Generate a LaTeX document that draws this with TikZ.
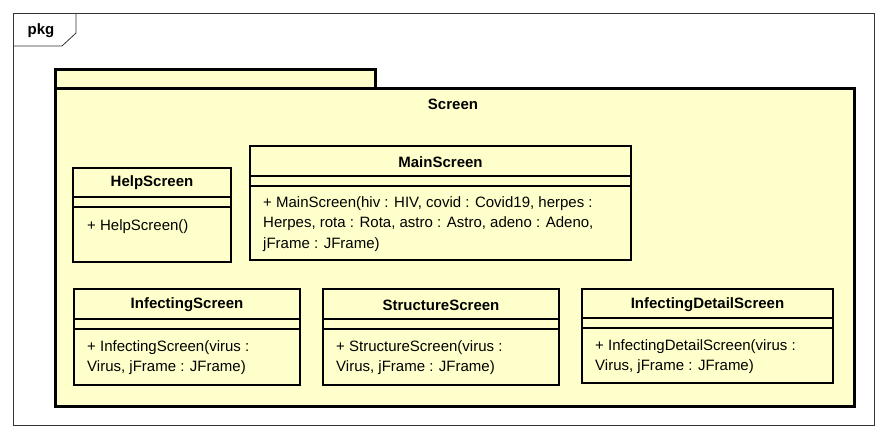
\documentclass[tikz,border=0pt]{standalone}
\usepackage{fontspec}
\setmainfont{Liberation Sans}
\definecolor{uml}{HTML}{FFFFCC}
\definecolor{frm}{HTML}{333333}
\tikzset{
  cls/.style={draw=black, line width=2.8pt, fill=uml, anchor=north west, inner sep=0pt, outer sep=0pt},
  sepline/.style={draw=black, line width=1.1pt},
  cname/.style={font=\bfseries\fontsize{15}{18}\selectfont, inner sep=0pt},
  meth/.style={font=\fontsize{15}{20.5}\selectfont, anchor=north west, align=left, inner sep=0pt},
}
\begin{document}
\begin{tikzpicture}[x=1pt,y=-1pt]
\useasboundingbox (0,0) rectangle (886,438);
% outer frame
\node[draw=frm, line width=0.8pt, anchor=north west, minimum width=861pt, minimum height=412pt, inner sep=0pt] (frame) at (13,13) {};
\coordinate (t1) at (76,13);
\coordinate (t2) at (76,33);
\coordinate (t3) at (62,46);
\coordinate (t4) at (13,46);
\draw[frm, line width=0.8pt] (t1) -- (t2) -- (t3) -- (t4);
\node[font=\bfseries\fontsize{15}{18}\selectfont, inner sep=0pt] (pkg) at (41,31) {pkg};
% package
\node[draw=black, line width=2.8pt, fill=uml, anchor=north west, minimum width=320pt, minimum height=20pt, inner sep=0pt] (ptab) at (54,68) {};
\node[draw=black, line width=2.8pt, fill=uml, anchor=north west, minimum width=799pt, minimum height=318pt, inner sep=0pt] (pbody) at (54,87) {};
\node[cname] (pname) at (453,104) {Screen};
% HelpScreen
\node[cls, minimum width=158pt, minimum height=94pt] (help) at (73,168) {};
\node[cname] (helpn) at (152,183) {HelpScreen};
\draw[sepline] (help.west |- 0,197) -- (help.east |- 0,197);
\draw[sepline] (help.west |- 0,207) -- (help.east |- 0,207);
\node[meth] (helpm) at (87,219) {+ HelpScreen()};
% MainScreen
\node[cls, minimum width=381pt, minimum height=114pt] (main) at (250,146) {};
\node[cname] (mainn) at (440.5,162) {MainScreen};
\draw[sepline] (main.west |- 0,176) -- (main.east |- 0,176);
\draw[sepline] (main.west |- 0,186) -- (main.east |- 0,186);
\node[meth] (mainm) at (263,196) {+ MainScreen(hiv : HIV, covid : Covid19, herpes :\\Herpes, rota : Rota, astro : Astro, adeno : Adeno,\\jFrame : JFrame)};
% InfectingScreen
\node[cls, minimum width=226pt, minimum height=96pt] (inf) at (74,289) {};
\node[cname] (infn) at (187,305) {InfectingScreen};
\draw[sepline] (inf.west |- 0,319) -- (inf.east |- 0,319);
\draw[sepline] (inf.west |- 0,329) -- (inf.east |- 0,329);
\node[meth] (infm) at (87,340) {+ InfectingScreen(virus :\\Virus, jFrame : JFrame)};
% StructureScreen
\node[cls, minimum width=236pt, minimum height=96pt] (str) at (323,289) {};
\node[cname] (strn) at (441,305) {StructureScreen};
\draw[sepline] (str.west |- 0,319) -- (str.east |- 0,319);
\draw[sepline] (str.west |- 0,329) -- (str.east |- 0,329);
\node[meth] (strm) at (336,340) {+ StructureScreen(virus :\\Virus, jFrame : JFrame)};
% InfectingDetailScreen
\node[cls, minimum width=251pt, minimum height=94pt] (det) at (582,289) {};
\node[cname] (detn) at (707.5,305) {InfectingDetailScreen};
\draw[sepline] (det.west |- 0,318) -- (det.east |- 0,318);
\draw[sepline] (det.west |- 0,328) -- (det.east |- 0,328);
\node[meth] (detm) at (595,339) {+ InfectingDetailScreen(virus :\\Virus, jFrame : JFrame)};
\end{tikzpicture}
\end{document}
